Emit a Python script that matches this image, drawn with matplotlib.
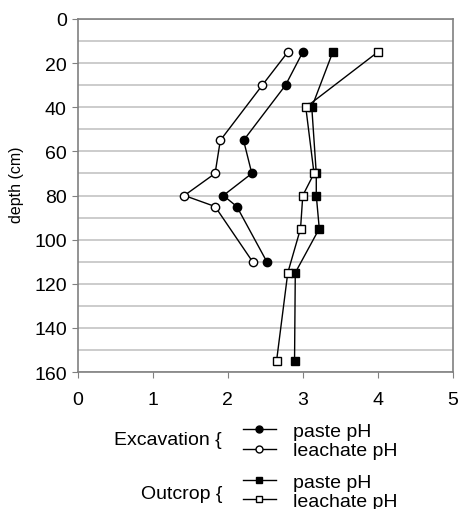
import matplotlib
matplotlib.use("Agg")
import matplotlib.pyplot as plt
from matplotlib.lines import Line2D

plt.rcParams['font.family'] = ['Liberation Sans', 'DejaVu Sans']

# profils de pH (profondeur en cm)
exc_depth = [15, 30, 55, 70, 80, 85, 110]
exc_paste = [3.00, 2.77, 2.21, 2.32, 1.94, 2.12, 2.52]
exc_leach = [2.80, 2.46, 1.90, 1.83, 1.42, 1.83, 2.33]

out_depth = [15, 40, 70, 80, 95, 115, 155]
out_paste = [3.40, 3.12, 3.18, 3.18, 3.22, 2.90, 2.89]
out_leach = [4.00, 3.04, 3.15, 3.00, 2.97, 2.80, 2.65]

fig = plt.figure(figsize=(4.61, 5.10), dpi=100, facecolor='w')
ax = fig.add_axes([0.169, 0.2686, 0.813, 0.6922])

ax.plot(exc_paste, exc_depth, '-o', color='k', mfc='k', mec='k', ms=6, lw=1.0, zorder=3)
ax.plot(exc_leach, exc_depth, '-o', color='k', mfc='w', mec='k', ms=6, lw=1.0, zorder=3)
ax.plot(out_paste, out_depth, '-s', color='k', mfc='k', mec='k', ms=5.5, lw=1.0, zorder=3)
ax.plot(out_leach, out_depth, '-s', color='k', mfc='w', mec='k', ms=5.5, lw=1.0, zorder=3)

ax.set_xlim(0, 5)
ax.set_ylim(160, 0)
ax.set_xticks([0, 1, 2, 3, 4, 5])
ax.set_yticks(range(0, 161, 20))
ax.set_yticks(range(10, 160, 20), minor=True)
ax.grid(True, which='both', axis='y', color='#c8c8c8', lw=1.3)
ax.set_axisbelow(True)
ax.tick_params(labelsize=14, length=4, color='#808080')
ax.tick_params(axis='x', pad=10)
ax.tick_params(axis='y', pad=4)
ax.tick_params(which='minor', length=0)
for s in ax.spines.values():
    s.set_color('#808080')
    s.set_linewidth(1.2)
ax.set_ylabel('depth (cm)', fontsize=11.5)
ax.yaxis.set_label_coords(-0.144, 0.533)

# legende en deux groupes
def handle(marker, fill):
    return Line2D([], [], color='k', marker=marker, mfc=fill, mec='k', ms=5, lw=1.0)

opts = dict(loc='center left', frameon=False, fontsize=14, handlelength=1.7,
            handletextpad=0.85, labelspacing=0.08, borderpad=0, borderaxespad=0)
fig.legend([handle('o', 'k'), handle('o', 'w')], ['paste pH', 'leachate pH'],
           bbox_to_anchor=(0.527, 0.1333), **opts)
fig.legend([handle('s', 'k'), handle('s', 'w')], ['paste pH', 'leachate pH'],
           bbox_to_anchor=(0.527, 0.0343), **opts)
fig.text(0.4816, 0.137, 'Excavation {', ha='right', va='center', fontsize=14)
fig.text(0.4816, 0.031, 'Outcrop {', ha='right', va='center', fontsize=14)

fig.savefig('out.png', dpi=100, facecolor='w')
